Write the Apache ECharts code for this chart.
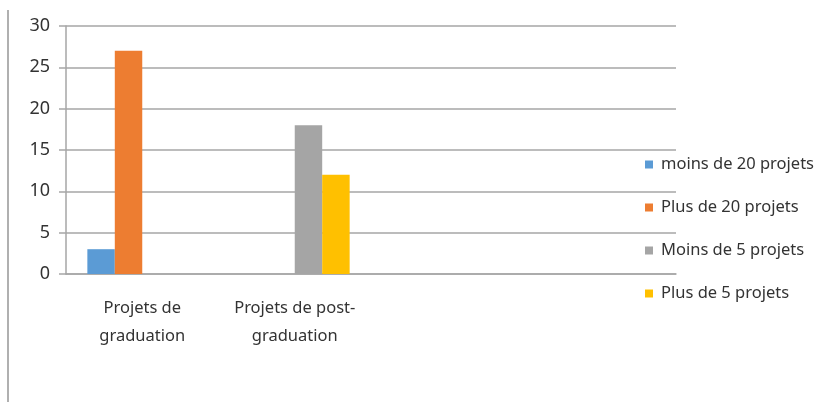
<!DOCTYPE html>
<html>
<head>
<meta charset="utf-8">
<script src="https://cdn.jsdelivr.net/npm/echarts@6/dist/echarts.min.js"></script>
<style>html,body{margin:0;padding:0;background:#fff;}#c{width:817px;height:402px;}</style>
</head>
<body>
<div id="c"></div>
<script>
var categories = ['Projets de\ngraduation', 'Projets de post-\ngraduation', '', ''];
var seriesNames = ['moins de 20 projets', 'Plus de 20 projets', 'Moins de 5 projets', 'Plus de 5 projets'];
var moins20 = [3, null, null, null];
var plus20 = [27, null, null, null];
var moins5 = [null, 18, null, null];
var plus5 = [null, 12, null, null];
var colors = ['#5B9BD5', '#ED7D31', '#A5A5A5', '#FFC000'];
var yTicks = {min: 0, max: 30, interval: 5};

var font = 'Noto Sans';
var chart = echarts.init(document.getElementById('c'), null, {renderer: 'canvas'});
var data = [moins20, plus20, moins5, plus5];
chart.setOption({
  animation: false,
  color: colors,
  textStyle: {fontFamily: font},
  grid: {left: 66, right: 141, top: 26, bottom: 128},
  legend: {
    orient: 'vertical', left: 645, top: 156, padding: 0, itemWidth: 8, itemHeight: 8, itemGap: 26,
    icon: 'rect',
    textStyle: {fontFamily: font, fontSize: 16.5, color: '#333333', padding: [0, 0, 0, 3]},
    data: seriesNames
  },
  graphic: [{type: 'line', shape: {x1: 8, y1: 10, x2: 8, y2: 402}, style: {stroke: '#b0b0b0', lineWidth: 2}}],
  xAxis: {
    type: 'category', data: categories,
    axisLine: {lineStyle: {color: '#a6a6a6', width: 1.5}},
    axisTick: {length: 7, lineStyle: {color: '#a6a6a6', width: 1.5}},
    axisLabel: {fontFamily: font, fontSize: 16.5, color: '#333333', margin: 20, lineHeight: 28, interval: 0}
  },
  yAxis: {
    type: 'value', min: yTicks.min, max: yTicks.max, interval: yTicks.interval,
    axisLine: {show: true, lineStyle: {color: '#a6a6a6', width: 1.5}},
    axisTick: {show: true, length: 7, lineStyle: {color: '#a6a6a6', width: 1.5}},
    splitLine: {lineStyle: {color: '#a6a6a6', width: 1.5}},
    axisLabel: {fontFamily: font, fontSize: 18, color: '#333333', margin: 16}
  },
  series: data.map(function (d, i) {
    return {name: seriesNames[i], type: 'bar', data: d, barGap: '0%', barCategoryGap: '28%'};
  })
});
</script>
</body>
</html>
